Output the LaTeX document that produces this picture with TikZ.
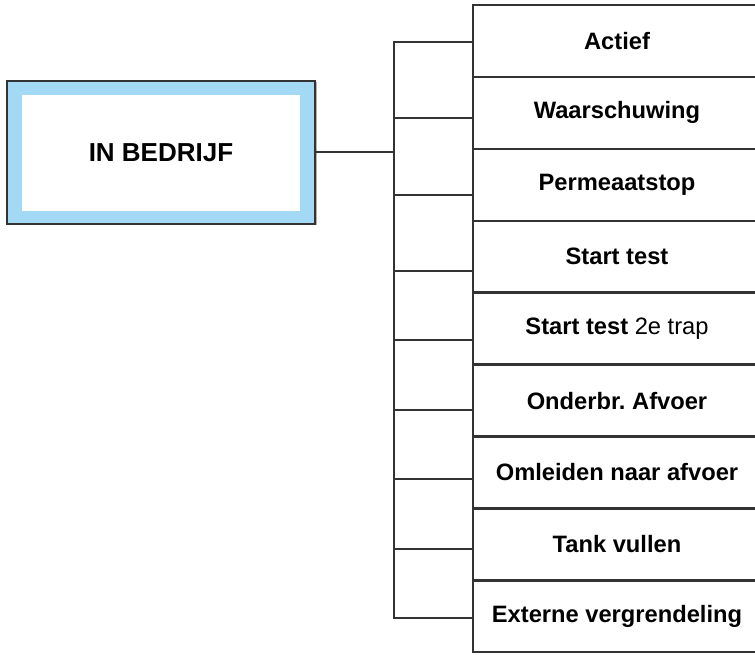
\documentclass[tikz,border=0pt]{standalone}
\usepackage{fontspec}
\setmainfont{Liberation Sans}
\frenchspacing
\definecolor{lineclr}{HTML}{333333}
\definecolor{bandblue}{HTML}{A3D9F5}
\begin{document}
\begin{tikzpicture}[x=1pt,y=1pt,
  rowbox/.style={minimum width=288pt,minimum height=71.92pt,inner sep=0pt,anchor=center,
     font=\fontsize{23.7}{28}\selectfont\bfseries},
  conn/.style={draw=lineclr,line width=2pt},
  titleouter/.style={draw=lineclr,line width=2pt,fill=bandblue,minimum width=308pt,minimum height=143pt,inner sep=0pt},
  titleinner/.style={fill=white,minimum width=278pt,minimum height=116pt,inner sep=0pt,
     font=\fontsize{26}{30}\selectfont\bfseries}]
\useasboundingbox (0,0) rectangle (755,654);
% title box
\fill[black!30] (9,428.5) rectangle (316.5,571.5);
\node[titleouter] (title) at (161,501.5) {};
\node[titleinner] (titletext) at (161,501) {IN BEDRIJF};
% rows
\foreach \i/\t in {1/{Actief},2/{Waarschuwing},3/{Permeaatstop},4/{Start test},
   5/{Start test \mdseries 2e trap},6/{Onderbr. Afvoer},7/{Omleiden naar afvoer},
   8/{Tank vullen},9/{Externe vergrendeling}}{
  \node[rowbox] (r\i) at (617,{649-71.92*(\i-0.5)}) {\t};
  \draw[conn] (r\i.north west) ++(282,0) -- (r\i.north west) -- (r\i.south west) -- ++(282,0);
}
% bus
\coordinate (b1) at (393.5,612);
\coordinate (b2) at (393.5,535.5);
\coordinate (b3) at (393.5,459);
\coordinate (b4) at (393.5,383.3);
\coordinate (b5) at (393.5,313.5);
\coordinate (b6) at (393.5,244);
\coordinate (b7) at (393.5,175);
\coordinate (b8) at (393.5,105.3);
\coordinate (b9) at (393.5,36.3);
\draw[conn,line cap=rect] (b1) -- (b9);
\draw[conn] (title.east) -- (title.east -| b1);
\foreach \i in {1,...,9}{
  \draw[conn] (b\i) -- (b\i -| r1.west);
}
\end{tikzpicture}
\end{document}
